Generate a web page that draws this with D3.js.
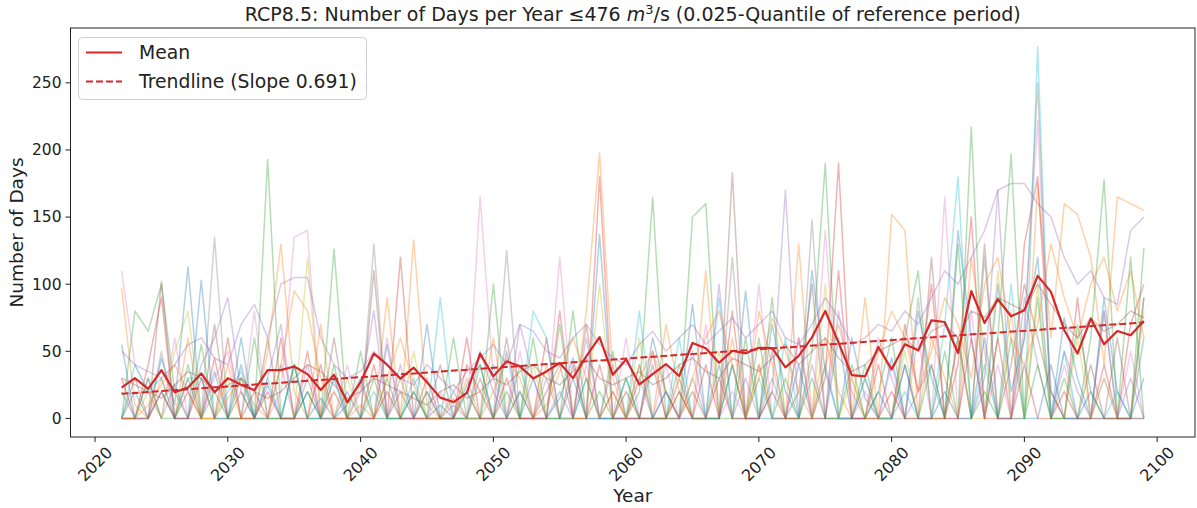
<!DOCTYPE html>
<html>
<head>
<meta charset="utf-8">
<script src="https://cdn.jsdelivr.net/npm/d3@7"></script>
<style>
  body { margin: 0; background: #fff; }
  svg { display: block; font-family: "DejaVu Sans", sans-serif; }
</style>
</head>
<body>
<svg id="chart" width="1197" height="508"></svg>
<script>
// Years covered by the projection
const firstYear = 2022;
const lastYear = 2099;
const years = d3.range(firstYear, lastYear + 1);

// Ensemble members: number of days per year below the threshold
const member0 = [0,20,0,45,10,113,0,35, 0,60,0,25,0,40,0,15,0,10, 30,0,55,0,20,0,10,0,25,40, 0,50,0,30,0,15,45,0,137,0, 30,0,60,20,0,85,0,40,0,95, 0,70,20,0,110,35,0,60,15,0, 45,0,80,30,0,140,60,0,100,20, 60,120,0,75,30,0,90,20,0,60];
const member1 = [97,10,0,30,0,60,0,0, 40,0,0,50,130,20,0,70,0,0, 25,0,90,0,133,10,0,0,30,0, 60,0,20,0,40,0,0,80,198,30, 0,40,0,70,20,0,110,0,60,0, 80,40,0,130,0,60,20,0,90,0, 152,140,0,60,30,0,120,50,0,80, 0,175,60,160,152,120,40,165,160,155];
const member2 = [0,80,65,100,20,0,55,0, 0,30,0,193,0,40,0,0,126,0, 50,0,30,0,0,20,0,60,0,0, 100,0,40,0,0,70,0,30,0,50, 0,20,165,0,0,150,160,0,40,0, 60,0,30,0,50,190,0,0,40,0, 0,60,110,0,50,0,217,0,60,197, 0,90,0,30,0,60,178,0,0,127];
const member3 = [30,0,40,90,0,20,0,45, 0,0,20,0,60,0,50,0,20,0, 0,40,0,120,0,30,0,0,40,20, 0,30,0,0,60,0,40,0,180,0, 20,0,50,0,30,0,40,0,80,0, 40,0,0,60,0,30,190,0,0,40, 0,70,20,100,0,40,150,0,60,0, 130,180,20,0,90,0,40,0,70,100];
const member4 = [0,0,30,0,25,0,40,60, 90,20,0,30,70,0,40,0,30,0, 20,80,0,40,0,20,0,10,0,50, 20,0,70,30,0,20,0,60,0,40, 0,30,0,20,0,50,0,100,0,30, 0,20,170,0,40,0,80,20,0,60, 30,0,20,40,0,60,0,30,170,0, 90,40,0,50,20,0,80,0,30,0];
const member5 = [0,30,0,102,0,30,0,70, 0,20,0,60,0,0,30,0,60,0, 0,110,0,20,0,0,40,0,0,30, 0,60,0,0,20,40,0,70,0,20, 0,0,40,0,0,20,0,0,183,0, 0,50,0,20,100,0,0,0,30,0, 0,40,0,120,0,60,0,130,0,40, 100,60,20,0,0,40,0,60,0,90];
const member6 = [110,40,20,0,60,0,0,30, 50,0,80,0,20,135,140,0,0,40, 0,0,60,0,0,0,20,0,0,165, 30,0,50,0,0,120,0,40,0,0, 60,0,0,40,0,0,70,0,20,0, 100,0,0,60,0,140,0,0,20,0, 40,0,60,0,165,0,80,0,40,0, 70,222,0,40,0,0,30,0,50,0];
const member7 = [20,0,0,50,0,0,0,135, 0,0,0,0,40,0,0,0,0,0, 0,130,0,30,0,0,0,20,0,0, 0,125,0,0,30,0,0,0,0,0, 0,40,0,0,0,30,0,0,120,0, 0,30,0,0,148,0,0,0,0,0, 0,0,90,0,0,0,0,120,0,0, 60,250,0,0,0,0,80,0,0,90];
const member8 = [0,0,20,0,50,80,0,0, 30,0,0,0,0,0,120,0,0,30, 0,0,0,0,50,0,0,0,20,0, 0,0,0,40,0,0,0,0,100,0, 0,60,0,0,20,0,0,50,0,0, 40,0,0,0,0,100,0,30,0,0, 0,50,0,0,0,60,0,0,110,0, 0,100,0,0,60,0,30,0,0,80];
const member9 = [0,40,20,30,0,30,30,0, 20,35,0,30,0,40,0,0,30,0, 0,20,0,0,30,0,90,0,0,0, 40,0,0,80,60,0,0,30,0,0, 0,80,0,0,60,0,0,90,0,0, 30,0,60,0,0,40,0,0,30,0, 0,20,0,0,70,180,0,40,0,100, 0,277,0,50,0,0,0,20,0,0];
const member10 = [55,0,0,20,0,0,103,0, 0,40,0,0,0,0,20,0,0,20, 0,0,0,0,0,70,0,0,20,0, 0,0,20,0,0,0,30,0,0,0, 0,0,0,20,0,0,0,0,40,0, 0,0,0,40,0,0,60,0,0,20, 0,40,0,0,20,0,0,60,0,0, 0,0,40,0,0,20,0,0,0,30];
const member11 = [0,0,10,25,40,20,0,0, 15,30,10,0,40,95,80,30,0,0, 10,0,30,60,25,0,0,15,0,0, 20,45,30,0,10,35,60,30,0,20, 0,30,50,20,0,30,60,80,40,0, 30,75,50,20,0,40,70,30,0,50, 80,60,20,50,90,70,30,100,120,60, 40,70,130,90,60,100,120,80,110,60];
const member12 = [0,0,30,0,0,40,0,20, 0,0,60,0,0,0,20,0,40,0, 0,30,0,0,20,0,0,0,0,40, 0,20,0,60,0,0,80,0,20,0, 30,0,0,0,40,0,0,0,0,60, 0,90,0,0,30,0,0,40,0,20, 60,0,0,40,0,130,0,20,0,60, 0,40,0,0,70,20,0,0,120,0];
const member13 = [0,0,0,20,0,0,30,0, 60,0,0,20,0,0,0,40,0,0, 0,0,20,0,0,0,0,0,60,0, 0,0,0,0,0,80,0,0,40,0, 0,0,0,0,20,0,0,30,0,0, 0,20,0,0,0,0,110,0,0,0, 20,0,0,0,0,0,60,0,0,0, 40,0,0,20,0,0,0,0,0,0];
const member14 = [50,40,35,30,40,55,60,45, 40,70,85,60,100,105,105,60,40,30, 35,50,40,30,25,40,30,20,35,45, 55,40,70,65,50,45,60,70,55,45, 40,55,65,50,60,70,55,65,75,60, 70,80,60,55,70,90,75,55,60,70, 65,80,70,90,110,100,120,140,170,175, 175,160,150,120,100,110,90,85,140,150];
const member15 = [30,25,20,15,25,35,30,20, 25,30,20,15,20,30,40,35,25,15, 20,30,25,20,15,10,20,25,15,20, 30,25,35,40,30,25,35,45,30,25, 30,35,25,30,40,45,35,30,45,40, 35,45,55,40,50,60,45,35,40,50, 55,60,50,65,70,60,80,75,90,85, 80,100,85,70,60,75,65,70,80,75];

const members = [member0, member1, member2, member3, member4, member5, member6, member7,
                 member8, member9, member10, member11, member12, member13, member14, member15];

// Ensemble mean per year
const meanDays = [23,30,22,36,19.5,23,33.5,19.5,
  30,25,21,36,36,38.7,33,21.2,32.6,12,
  27,48.3,40,29.6,37.8,27,15.5,12.2,19,48.3,
  31.3,42.5,38.8,29.8,35,41.3,30,46.3,60.5,32.5,
  44,25.3,33,40.5,31.6,56.2,52.3,41.5,50.4,48.5,
  52.6,52.3,38,46.6,60.3,80,56.5,32.3,31.3,53.2,
  36.5,55.2,50.7,73.1,71.8,48.7,94.8,71.1,88.8,76.1,
  80.6,106.2,94.3,65.7,48.3,74.4,55.2,65.1,61.9,72.6];

// Trend of the mean (days per year)
const trendSlope = 0.691;

const xTicks = [2020, 2030, 2040, 2050, 2060, 2070, 2080, 2090, 2100];
const yTicks = [0, 50, 100, 150, 200, 250];

const svg = d3.select("#chart");
const plot = { left: 70.5, right: 1195, top: 28, bottom: 437 };

// Axis limits with 5% padding around the data
const allVals = members.flat().concat(meanDays);
const yMin = Math.min(0, d3.min(allVals)), yMax = d3.max(allVals);
const yPad = (yMax - yMin) * 0.05;
const xPad = (lastYear - firstYear) * 0.05;

const x = d3.scaleLinear().domain([firstYear - xPad, lastYear + xPad]).range([plot.left, plot.right]);
const y = d3.scaleLinear().domain([yMin - yPad, yMax + yPad]).range([plot.bottom, plot.top]);

const colors = d3.schemeCategory10;

svg.append("defs").append("clipPath").attr("id", "clip")
  .append("rect").attr("x", plot.left).attr("y", plot.top)
  .attr("width", plot.right - plot.left).attr("height", plot.bottom - plot.top);

const line = d3.line().x((d, i) => x(years[i])).y(d => y(d));

const g = svg.append("g").attr("clip-path", "url(#clip)");

// individual members
g.selectAll("path.member").data(members).join("path")
  .attr("class", "member")
  .attr("d", line)
  .attr("fill", "none")
  .attr("stroke", (d, i) => colors[i % 10])
  .attr("stroke-width", 1.5)
  .attr("stroke-opacity", 0.35)
  .attr("stroke-linejoin", "round");

// ensemble mean
g.append("path").datum(meanDays)
  .attr("d", line)
  .attr("fill", "none")
  .attr("stroke", "#d62728")
  .attr("stroke-width", 2.2)
  .attr("stroke-linejoin", "round");

// trendline through the centroid of the mean series
const xBar = d3.mean(years), yBar = d3.mean(meanDays);
const trendAt = yr => yBar + trendSlope * (yr - xBar);
g.append("line")
  .attr("x1", x(firstYear)).attr("y1", y(trendAt(firstYear)))
  .attr("x2", x(lastYear)).attr("y2", y(trendAt(lastYear)))
  .attr("stroke", "#d62728")
  .attr("stroke-width", 2)
  .attr("stroke-dasharray", "7,3");

// frame
svg.append("rect")
  .attr("x", plot.left).attr("y", plot.top)
  .attr("width", plot.right - plot.left).attr("height", plot.bottom - plot.top)
  .attr("fill", "none").attr("stroke", "#222").attr("stroke-width", 1);

// x axis ticks and rotated labels
const xt = svg.append("g");
xTicks.forEach(t => {
  const px = x(t);
  xt.append("line").attr("x1", px).attr("x2", px).attr("y1", plot.bottom).attr("y2", plot.bottom + 5)
    .attr("stroke", "#222").attr("stroke-width", 1);
  xt.append("text")
    .attr("transform", `translate(${px},${plot.bottom + 27}) rotate(-45)`)
    .attr("text-anchor", "middle").attr("dy", "0.35em")
    .attr("font-size", 16).attr("fill", "#222")
    .text(t);
});

// y axis ticks and labels
const yt = svg.append("g");
yTicks.forEach(t => {
  const py = y(t);
  yt.append("line").attr("x1", plot.left - 5).attr("x2", plot.left).attr("y1", py).attr("y2", py)
    .attr("stroke", "#222").attr("stroke-width", 1);
  yt.append("text")
    .attr("x", plot.left - 9).attr("y", py).attr("dy", "0.35em")
    .attr("text-anchor", "end").attr("font-size", 15.5).attr("fill", "#222")
    .text(t);
});

// axis titles
svg.append("text")
  .attr("x", (plot.left + plot.right) / 2).attr("y", 502)
  .attr("text-anchor", "middle").attr("font-size", 18.5).attr("fill", "#222")
  .text("Year");
svg.append("text")
  .attr("transform", `translate(23,${(plot.top + plot.bottom) / 2}) rotate(-90)`)
  .attr("text-anchor", "middle").attr("font-size", 18.5).attr("fill", "#222")
  .text("Number of Days");

// chart title
const title = svg.append("text")
  .attr("x", (plot.left + plot.right) / 2).attr("y", 21)
  .attr("text-anchor", "middle").attr("font-size", 19).attr("fill", "#222");
title.append("tspan").text("RCP8.5: Number of Days per Year ≤476 ");
title.append("tspan").attr("font-style", "italic").text("m");
title.append("tspan").attr("font-size", 13).attr("dy", -7.5).text("3");
title.append("tspan").attr("dy", 7.5).text("/s (0.025-Quantile of reference period)");

// legend
const lg = svg.append("g");
lg.append("rect").attr("x", 78.5).attr("y", 37.5).attr("width", 288).attr("height", 62).attr("rx", 4)
  .attr("fill", "#fff").attr("fill-opacity", 0.8).attr("stroke", "#d0d0d0");
const legendItems = [
  { label: "Mean", dash: null, y: 52.5 },
  { label: `Trendline (Slope ${trendSlope})`, dash: "7,3", y: 81.5 }
];
legendItems.forEach(it => {
  lg.append("line").attr("x1", 86).attr("x2", 122).attr("y1", it.y).attr("y2", it.y)
    .attr("stroke", "#d62728").attr("stroke-width", 2)
    .attr("stroke-dasharray", it.dash);
  lg.append("text").attr("x", 139).attr("y", it.y).attr("dy", "0.35em")
    .attr("font-size", 18.8).attr("fill", "#222").text(it.label);
});
</script>
</body>
</html>
